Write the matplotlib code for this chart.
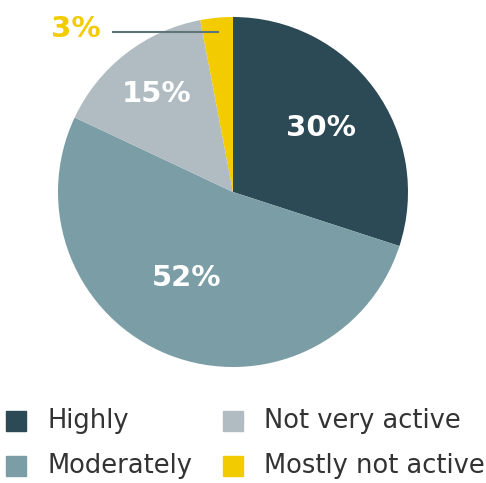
import numpy as np
import matplotlib
matplotlib.use("Agg")
import matplotlib.pyplot as plt

# activity levels, clockwise from 12 o'clock
labels = ["Highly", "Moderately", "Not very active", "Mostly not active"]
shares = [30, 52, 15, 3]
colors = ["#2b4a56", "#7b9ea6", "#b0bcc1", "#f2cc00"]
# where the in-slice labels sit: (radius fraction, angle nudge in degrees)
label_pos = [(0.62, 0), (0.56, -6.5), (0.71, 0)]

plt.rcParams["font.family"] = "DejaVu Sans"

W, H = 486, 483
fig = plt.figure(figsize=(W / 100, H / 100), dpi=100)

# pie axes in pixel terms: centre (233,192), radius 175
cx, cy, R = 233, 192, 175
ax = fig.add_axes([(cx - R) / W, 1 - (cy + R) / H, 2 * R / W, 2 * R / H])
wedges, _ = ax.pie(shares, colors=colors, startangle=90, counterclock=False,
                   wedgeprops=dict(linewidth=0))
ax.set_xlim(-1, 1)
ax.set_ylim(-1, 1)
ax.set_aspect("equal")
ax.axis("off")

for w, s, (r, nudge) in zip(wedges[:3], shares[:3], label_pos):
    mid = np.deg2rad((w.theta1 + w.theta2) / 2 + nudge)
    ax.text(r * np.cos(mid), r * np.sin(mid), f"{s}%", color="white",
            fontsize=21, fontweight="bold", ha="center", va="center")

# small slice gets an outside label with a leader line
w = wedges[3]
mid = np.deg2rad((w.theta1 + w.theta2) / 2)
ly = 0.92 * np.sin(mid)
ax.plot([0.92 * np.cos(mid), -0.686], [ly, ly], color="#5f7379", lw=1.5,
        clip_on=False)
ax.text(-0.90, 0.93, f"{shares[3]}%", color=colors[3], fontsize=21,
        fontweight="bold", ha="center", va="center")

# legend, two columns
cols_x = [6, 223]
rows_y = [421, 466]
for i, (lab, c) in enumerate(zip(labels, colors)):
    col = i // 2
    row = i % 2
    x0, yc = cols_x[col], rows_y[row]
    fig.patches.append(plt.Rectangle((x0 / W, 1 - (yc + 10) / H), 20 / W, 20 / H,
                                     transform=fig.transFigure, color=c))
    fig.text((x0 + 41) / W, 1 - yc / H, lab, color="#333333", fontsize=18.5,
             ha="left", va="center")

fig.savefig("out.png", dpi=100)
